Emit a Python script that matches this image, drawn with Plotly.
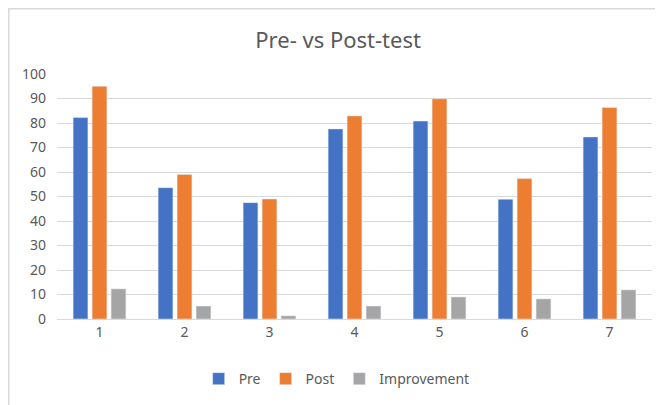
import plotly.graph_objects as go

# dados
tests = ['1', '2', '3', '4', '5', '6', '7']
pre = [82.2, 53.6, 47.5, 77.6, 80.8, 48.9, 74.3]
post = [95.0, 59.0, 49.0, 82.9, 89.9, 57.3, 86.3]
improvement = [12.3, 5.3, 1.3, 5.3, 9.0, 8.2, 11.9]

texto = '#595959'
fonte = 'Noto Sans'

fig = go.Figure()
fig.add_trace(go.Bar(x=tests, y=pre, name='Pre', marker=dict(color='#4472C4')))
fig.add_trace(go.Bar(x=tests, y=post, name='Post', marker=dict(color='#ED7D31')))
fig.add_trace(go.Bar(x=tests, y=improvement, name='Improvement', marker=dict(color='#A5A5A5')))

# a pagina tem margem de 8px no body, por isso a figura fica um pouco menor
fig.update_layout(
    width=655, height=397,
    paper_bgcolor='white', plot_bgcolor='white',
    margin=dict(l=49, r=11, t=66, b=85),
    barmode='group', bargap=0.33, bargroupgap=0.22,
    title=dict(text='Pre- vs Post-test', x=0.504, xanchor='center', y=0.919, yanchor='middle',
               font=dict(family=fonte, size=22, color=texto)),
    font=dict(family=fonte, size=14, color=texto),
    legend=dict(orientation='h', x=0.47, xanchor='center', y=-0.24, yanchor='middle',
                font=dict(size=14, color=texto), itemwidth=30, traceorder='normal'),
    xaxis=dict(showline=True, linecolor='#D9D9D9', linewidth=1, ticks='',
               tickfont=dict(size=14, color=texto), showgrid=False),
    yaxis=dict(range=[0, 100], dtick=10, showgrid=True, gridcolor='#D9D9D9', gridwidth=1,
               zeroline=False, ticks='', ticklabelstandoff=10,
               tickfont=dict(size=14, color=texto)),
)

# borda clara em volta do grafico (como no Excel)
fig.add_shape(type='rect', xref='paper', yref='paper',
              x0=-0.081, x1=1.5, y0=-1, y1=1.266,
              line=dict(color='#D9D9D9', width=1.5), layer='below')

fig.write_html('out.html')
